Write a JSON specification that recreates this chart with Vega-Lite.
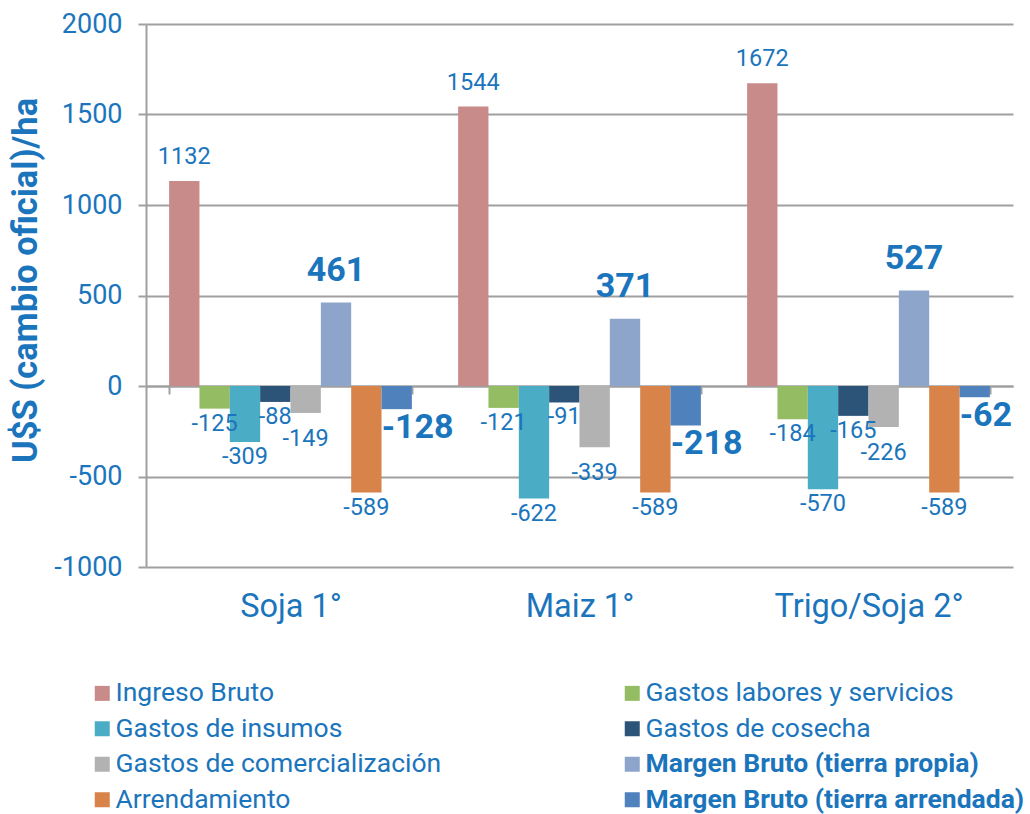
{
  "$schema": "https://vega.github.io/schema/vega-lite/v6.json",
  "width": 867,
  "height": 543,
  "autosize": "none",
  "padding": {"left": 146, "top": 24, "right": 17, "bottom": 247},
  "background": "white",
  "config": {"view": {"stroke": null}, "font": "Roboto"},
  "data": {
    "values": [
      {"cultivo": "Soja 1°", "serie": "Ingreso Bruto", "valor": 1132},
      {"cultivo": "Soja 1°", "serie": "Gastos labores y servicios", "valor": -125},
      {"cultivo": "Soja 1°", "serie": "Gastos de insumos", "valor": -309},
      {"cultivo": "Soja 1°", "serie": "Gastos de cosecha", "valor": -88},
      {"cultivo": "Soja 1°", "serie": "Gastos de comercialización", "valor": -149},
      {"cultivo": "Soja 1°", "serie": "Margen Bruto (tierra propia)", "valor": 461},
      {"cultivo": "Soja 1°", "serie": "Arrendamiento", "valor": -589},
      {"cultivo": "Soja 1°", "serie": "Margen Bruto (tierra arrendada)", "valor": -128},
      {"cultivo": "Maiz 1°", "serie": "Ingreso Bruto", "valor": 1544},
      {"cultivo": "Maiz 1°", "serie": "Gastos labores y servicios", "valor": -121},
      {"cultivo": "Maiz 1°", "serie": "Gastos de insumos", "valor": -622},
      {"cultivo": "Maiz 1°", "serie": "Gastos de cosecha", "valor": -91},
      {"cultivo": "Maiz 1°", "serie": "Gastos de comercialización", "valor": -339},
      {"cultivo": "Maiz 1°", "serie": "Margen Bruto (tierra propia)", "valor": 371},
      {"cultivo": "Maiz 1°", "serie": "Arrendamiento", "valor": -589},
      {"cultivo": "Maiz 1°", "serie": "Margen Bruto (tierra arrendada)", "valor": -218},
      {"cultivo": "Trigo/Soja 2°", "serie": "Ingreso Bruto", "valor": 1672},
      {"cultivo": "Trigo/Soja 2°", "serie": "Gastos labores y servicios", "valor": -184},
      {"cultivo": "Trigo/Soja 2°", "serie": "Gastos de insumos", "valor": -570},
      {"cultivo": "Trigo/Soja 2°", "serie": "Gastos de cosecha", "valor": -165},
      {"cultivo": "Trigo/Soja 2°", "serie": "Gastos de comercialización", "valor": -226},
      {"cultivo": "Trigo/Soja 2°", "serie": "Margen Bruto (tierra propia)", "valor": 527},
      {"cultivo": "Trigo/Soja 2°", "serie": "Arrendamiento", "valor": -589},
      {"cultivo": "Trigo/Soja 2°", "serie": "Margen Bruto (tierra arrendada)", "valor": -62}
    ]
  },
  "encoding": {
    "x": {
      "field": "cultivo",
      "type": "nominal",
      "sort": ["Soja 1°", "Maiz 1°", "Trigo/Soja 2°"],
      "scale": {"paddingInner": 0.16, "paddingOuter": 0.08},
      "axis": {
        "title": null,
        "orient": "bottom",
        "offset": -181,
        "domain": true,
        "domainColor": "#A0A0A0",
        "domainWidth": 2,
        "ticks": true,
        "tickBand": "extent",
        "tickSize": 8,
        "tickColor": "#A0A0A0",
        "tickWidth": 2,
        "labelPadding": 196,
        "labelFontSize": 32.5,
        "labelLimit": 400,
        "labelColor": "#1B75BC",
        "labelAngle": 0,
        "grid": false
      }
    },
    "y": {
      "field": "valor",
      "type": "quantitative",
      "scale": {"domain": [-1000, 2000], "nice": false, "zero": false},
      "axis": {
        "title": "U$S (cambio oficial)/ha",
        "values": [-1000, -500, 0, 500, 1000, 1500, 2000],
        "labelExpr": "'' + datum.value",
        "grid": true,
        "gridColor": "#A0A0A0",
        "gridWidth": 2,
        "domain": true,
        "domainColor": "#A0A0A0",
        "domainWidth": 2,
        "tickSize": 8,
        "tickColor": "#A0A0A0",
        "tickWidth": 2,
        "labelPadding": 16,
        "labelFontSize": 27,
        "labelColor": "#1B75BC",
        "titleFontSize": 34.5,
        "titleFontWeight": "bold",
        "titleColor": "#1B75BC",
        "titleX": -120,
        "titleY": 256,
        "titleAngle": -90,
        "titleAlign": "center",
        "titleBaseline": "middle"
      }
    },
    "xOffset": {
      "field": "serie",
      "type": "nominal",
      "sort": ["Ingreso Bruto", "Gastos labores y servicios", "Gastos de insumos", "Gastos de cosecha", "Gastos de comercialización", "Margen Bruto (tierra propia)", "Arrendamiento", "Margen Bruto (tierra arrendada)"],
      "scale": {"paddingInner": 0, "paddingOuter": 0}
    }
  },
  "layer": [
    {
      "mark": {"type": "bar"},
      "encoding": {
        "color": {
          "field": "serie",
          "type": "nominal",
          "scale": {
            "domain": ["Ingreso Bruto", "Gastos labores y servicios", "Gastos de insumos", "Gastos de cosecha", "Gastos de comercialización", "Margen Bruto (tierra propia)", "Arrendamiento", "Margen Bruto (tierra arrendada)"],
            "range": ["#C98B8A", "#94BC63", "#4BACC6", "#2C5378", "#B2B2B2", "#8DA5CB", "#D8834A", "#4F81BD"]
          },
          "legend": {
            "title": null,
            "orient": "none",
            "direction": "horizontal",
            "legendX": -57,
            "legendY": 656,
            "columns": 2,
            "columnPadding": 177,
            "rowPadding": 8.5,
            "padding": 0,
            "symbolType": "square",
            "symbolSize": 225,
            "symbolStrokeWidth": 0,
            "labelFontSize": 26.5,
            "labelColor": "#1B75BC",
            "labelOffset": 0,
            "labelLimit": 600,
            "encode": {
              "labels": {
                "update": {
                  "fontWeight": {"signal": "indexof(datum.label, 'Margen') >= 0 ? 'bold' : 'normal'"}
                }
              }
            }
          }
        }
      }
    },
    {
      "transform": [{"filter": "indexof(datum.serie, 'Margen') < 0 && datum.valor > 0"}],
      "mark": {"type": "text", "baseline": "alphabetic", "dy": -17, "fontSize": 23.5, "color": "#1B75BC"},
      "encoding": {"text": {"field": "valor", "type": "nominal"}}
    },
    {
      "transform": [{"filter": "indexof(datum.serie, 'Margen') < 0 && datum.valor < 0 && datum.serie != 'Gastos de comercialización'"}],
      "mark": {"type": "text", "baseline": "top", "dy": 3, "fontSize": 23.5, "color": "#1B75BC"},
      "encoding": {"text": {"field": "valor", "type": "nominal"}}
    },
    {
      "transform": [{"filter": "datum.serie == 'Gastos de comercialización'"}],
      "mark": {"type": "text", "baseline": "top", "dy": 14, "fontSize": 23.5, "color": "#1B75BC"},
      "encoding": {"text": {"field": "valor", "type": "nominal"}}
    },
    {
      "transform": [{"filter": "datum.serie == 'Margen Bruto (tierra propia)'"}],
      "mark": {"type": "text", "baseline": "alphabetic", "dy": -22, "fontSize": 34, "fontWeight": "bold", "color": "#1B75BC"},
      "encoding": {"text": {"field": "valor", "type": "nominal"}}
    },
    {
      "transform": [{"filter": "datum.serie == 'Margen Bruto (tierra arrendada)'"}],
      "mark": {"type": "text", "baseline": "top", "align": "left", "dx": -15, "dy": 2, "fontSize": 34, "fontWeight": "bold", "color": "#1B75BC"},
      "encoding": {"text": {"field": "valor", "type": "nominal"}}
    }
  ]
}
